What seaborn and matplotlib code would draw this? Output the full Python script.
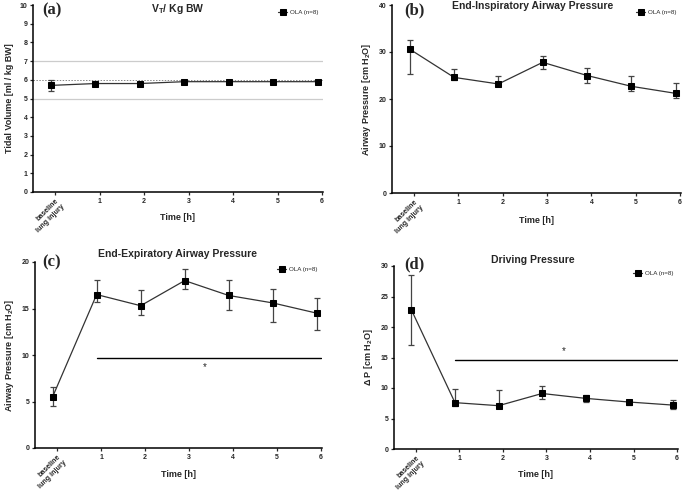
import matplotlib
matplotlib.use("Agg")
import matplotlib.pyplot as plt
import seaborn as sns
import pandas as pd
import numpy as np

sns.set_theme(style="ticks")
plt.rcParams['font.family'] = ['Liberation Sans', 'DejaVu Sans']

time_pos = [0, 1, 2, 3, 4, 5, 6]
tick_labels = ["baseline\nlung injury", "1", "2", "3", "4", "5", "6"]

vt_mean = [5.7, 5.8, 5.8, 5.9, 5.9, 5.9, 5.9]
vt_low = [5.4, 5.75, 5.75, 5.75, 5.85, 5.85, 5.85]
vt_high = [6.0, 5.85, 5.85, 6.0, 5.95, 5.95, 5.95]

pin_mean = [30.6, 24.6, 23.2, 27.8, 25.0, 22.7, 21.2]
pin_low = [25.4, 24.0, 23.0, 26.3, 23.3, 21.7, 20.3]
pin_high = [32.6, 26.4, 25.0, 29.2, 26.7, 25.0, 23.5]

peep_mean = [5.5, 16.5, 15.3, 18.0, 16.4, 15.6, 14.5]
peep_low = [4.5, 15.7, 14.3, 17.1, 14.8, 13.5, 12.7]
peep_high = [6.6, 18.1, 17.0, 19.2, 18.1, 17.1, 16.1]

dp_mean = [22.8, 7.6, 7.1, 9.1, 8.3, 7.7, 7.2]
dp_low = [17.0, 7.0, 6.9, 8.2, 7.7, 7.2, 6.5]
dp_high = [28.6, 9.9, 9.6, 10.4, 8.9, 8.1, 8.0]

legend_label = "OLA (n=8)"

fig = plt.figure(figsize=(6.85, 4.91), dpi=100)
W, H = 685, 491

def make_ax(l, r, t, b):
    return fig.add_axes([l / W, 1 - b / H, (r - l) / W, (b - t) / H])

panels = [
    dict(box=(33, 323, 5, 192), mean=vt_mean, lo=vt_low, hi=vt_high, ylim=(0, 10), yticks=range(0, 11),
         title="V$_\\mathregular{T}$/ Kg BW", ylabel="Tidal Volume [ml / kg BW]", letter="(a)",
         title_xy=(178, 9), letter_xy=(42, 2), xlab_y=-0.139),
    dict(box=(392, 681, 5, 193), mean=pin_mean, lo=pin_low, hi=pin_high, ylim=(0, 40), yticks=range(0, 41, 10),
         title="End-Inspiratory Airway Pressure", ylabel="Airway Pressure [cm H$_\\mathregular{2}$O]", letter="(b)",
         title_xy=(533, 6), letter_xy=(404, 2), xlab_y=-0.148),
    dict(box=(35, 322, 262, 448), mean=peep_mean, lo=peep_low, hi=peep_high, ylim=(0, 20), yticks=range(0, 21, 5),
         title="End-Expiratory Airway Pressure", ylabel="Airway Pressure [cm H$_\\mathregular{2}$O]", letter="(c)",
         title_xy=(178, 254), letter_xy=(42, 254), xlab_y=-0.145),
    dict(box=(394, 678, 266, 449), mean=dp_mean, lo=dp_low, hi=dp_high, ylim=(0, 30), yticks=range(0, 31, 5),
         title="Driving Pressure", ylabel="Δ P [cm H$_\\mathregular{2}$O]", letter="(d)",
         title_xy=(533, 260), letter_xy=(404, 256), xlab_y=-0.142),
]

offset = -0.1
for i, p in enumerate(panels):
    ax = make_ax(*p["box"])
    xs = np.array(time_pos) + offset
    df = pd.DataFrame({"x": xs, "y": p["mean"]})
    m = np.array(p["mean"]); lo = np.array(p["lo"]); hi = np.array(p["hi"])
    ax.errorbar(xs, m, yerr=[m - lo, hi - m], fmt="none", ecolor="#444444",
                elinewidth=0.9, capsize=2.2, capthick=0.9, zorder=2)
    sns.lineplot(data=df, x="x", y="y", ax=ax, color="#333333", linewidth=0.9,
                 marker="s", markersize=5, markerfacecolor="black", markeredgecolor="black",
                 label=legend_label, zorder=3)
    ax.set_xlim(-0.5, 6.02)
    ax.set_ylim(*p["ylim"])
    ax.set_yticks(list(p["yticks"]))
    ax.set_xticks(time_pos)
    ax.set_xticklabels(tick_labels)
    ax.tick_params(axis="both", labelsize=5, width=0.9, length=2.5, pad=1.5)
    for lbl in ax.get_xticklabels() + ax.get_yticklabels():
        lbl.set_fontweight("bold")
    lbl0 = ax.get_xticklabels()[0]
    lbl0.set_rotation(45)
    lbl0.set_ha("right")
    lbl0.set_va("top")
    lbl0.set_rotation_mode("anchor")
    lbl0.set_fontsize(5.1)
    for s in ["left", "bottom"]:
        ax.spines[s].set_linewidth(1.1)
        ax.spines[s].set_color("black")
    sns.despine(ax=ax)
    ax.set_xlabel("Time [h]", fontsize=6.5, fontweight="bold")
    ax.xaxis.set_label_coords(0.5, p["xlab_y"])
    ax.xaxis.label.set_va("center")
    ax.set_ylabel(p["ylabel"], fontsize=6.5, fontweight="bold", labelpad=4)
    fig.text(p["title_xy"][0] / W, 1 - p["title_xy"][1] / H, p["title"], fontsize=7.5,
             fontweight="bold", ha="center", va="center")
    fig.text(p["letter_xy"][0] / W, 1 - p["letter_xy"][1] / H, p["letter"], fontsize=12, fontweight="bold",
             family=["Liberation Serif", "DejaVu Serif"], va="top", ha="left")
    ax.legend(loc="upper right", fontsize=4.5, frameon=False, handlelength=1.4,
              handletextpad=0.5, borderaxespad=0.3, bbox_to_anchor=(1.0, 1.0))
    if i == 0:
        ax.axhline(7, color="#cccccc", linewidth=0.9, zorder=1)
        ax.axhline(5, color="#cccccc", linewidth=0.9, zorder=1)
        ax.axhline(6, color="#888888", linewidth=0.7, linestyle=(0, (1.5, 1.5)), zorder=1)
    if i == 2:
        ax.plot([0.91, 6.0], [9.7, 9.7], color="black", linewidth=1.0)
        ax.text(3.36, 8.7, "*", fontsize=7, ha="center", va="center")
    if i == 3:
        ax.plot([0.9, 6.02], [14.65, 14.65], color="black", linewidth=1.0)
        ax.text(3.39, 16.1, "*", fontsize=7, ha="center", va="center")

fig.savefig("out.png", dpi=100)
